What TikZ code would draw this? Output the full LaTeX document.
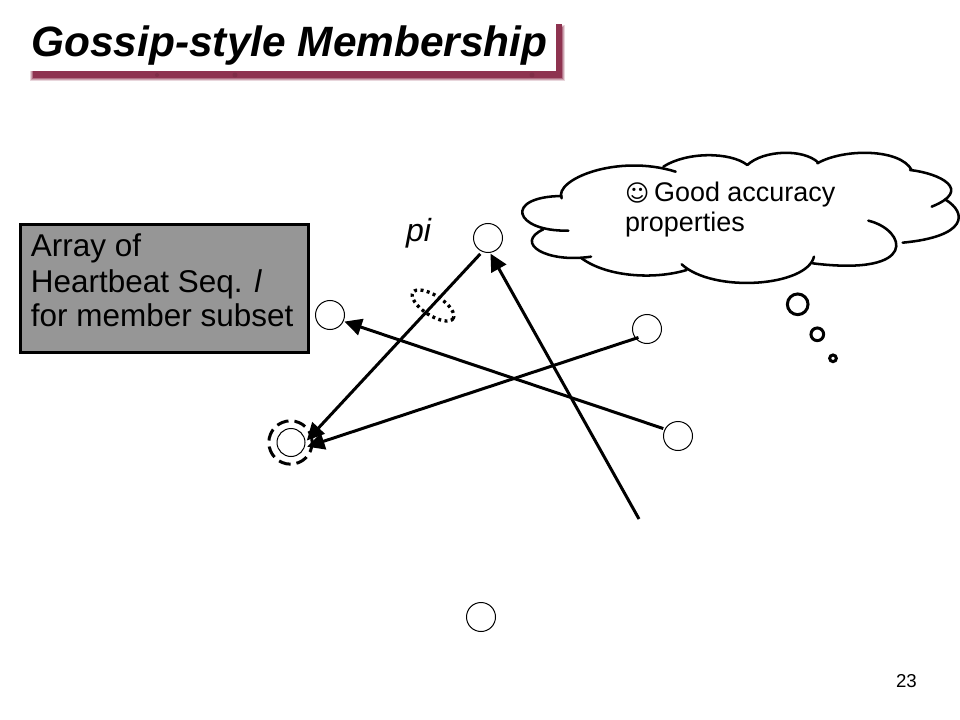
\documentclass[tikz,border=0pt]{standalone}
\usepackage{fontspec}
\setmainfont{Liberation Sans}
\newfontfamily\symfont{DejaVu Sans}
\usetikzlibrary{arrows.meta}
\definecolor{shadowred}{HTML}{8E3350}
\definecolor{boxgray}{HTML}{969696}
\tikzset{
  txt/.style={anchor=base west,inner sep=0pt,outer sep=0pt,text=black},
  member/.style={circle,draw=black,line width=0.75pt,fill=white,minimum size=21.75pt,inner sep=0pt,outer sep=0pt},
  conn/.style={line width=2.25pt,-{Triangle[length=13pt,width=12.5pt]}},
  lobe/.style={line width=1.9pt,line cap=round},
  bubble/.style={circle,draw=black,line width=2.25pt,fill=white,inner sep=0pt,outer sep=0pt},
}
\begin{document}
\begin{tikzpicture}[x=0.75pt,y=-0.75pt]
\useasboundingbox (0,0) rectangle (960,720);
% title
\foreach \o/\a in {3/0.2,2/0.3,1/0.45}{
  \fill[shadowred,opacity=\a] (33-\o,28-\o) rectangle (562+\o,78+\o);
}
\fill[shadowred] (33,24) rectangle (562,78);
\fill[shadowred!90!black] (157,75) circle (2);
\fill[shadowred!90!black] (235,75) circle (2.5);
\fill[shadowred!90!black] (532,75) circle (2.5);
\fill[white] (28,18) rectangle (556,71);
\node[txt,font=\fontsize{31.8pt}{36pt}\selectfont\bfseries\itshape] (title) at (31.5,57) {Gossip-style Membership};
% gray box
\node[draw=black,line width=2.25pt,fill=boxgray,minimum width=216pt,minimum height=95.5pt,inner sep=0pt] (box) at (164,288.5) {};
\node[txt,font=\fontsize{23.6pt}{28pt}\selectfont] (l1) at (31,257) {Array of};
\node[txt,font=\fontsize{23.6pt}{28pt}\selectfont] (l2) at (31,292) {Heartbeat Seq. \textit{l}};
\node[txt,font=\fontsize{23.6pt}{28pt}\selectfont] (l3) at (31,326) {for member subset};
% members
\node[member] (pi) at (488,238) {};
\node[member] (b) at (330,315) {};
\node[member] (c) at (647,329) {};
\node[member] (e) at (678,436) {};
\node[member,minimum size=21pt] (d) at (291,442.5) {};
\node[member] (g) at (481,617) {};
\coordinate (free) at (639,519);
\node[txt,font=\fontsize{24pt}{28pt}\selectfont\itshape] (pilabel) at (406,242) {pi};
% marks
\node[circle,draw=black,line width=2.25pt,dash pattern=on 9pt off 4.5pt,minimum size=32.5pt,inner sep=0pt] (ring) at (290.5,442.5) {};
\draw[line width=2.5pt,dash pattern=on 2.2pt off 2.6pt,rotate around={-33:(433,305.5)}] (433,305.5) ellipse (24 and 10);
% connectors
\draw[conn,shorten <=2.5pt,shorten >=2pt] (pi.248) -- (d.0);
\draw[conn,shorten >=1pt] (free) -- (pi.-83);
\draw[conn,shorten <=1.5pt,shorten >=1pt] (e.152) -- (b.-25);
\draw[conn,shorten <=-2pt,shorten >=2.5pt] (c.-140) -- (d.-22);
% cloud, in a local frame
\begin{scope}[shift={(510,140)},x=0.25pt,y=-0.25pt]
\draw[lobe] (155,175) .. controls (130,120) and (320,40) .. (497,95);
\draw[lobe] (460,80) .. controls (530,35) and (660,35) .. (712,75);
\draw[lobe] (712,75) .. controls (760,30) and (880,25) .. (925,68);
\draw[lobe] (922,70) .. controls (1000,25) and (1170,25) .. (1205,90);
\draw[lobe] (1200,90) .. controls (1290,100) and (1390,150) .. (1265,200);
\draw[lobe] (1305,178) .. controls (1375,220) and (1370,290) .. (1178,308);
\draw[lobe] (1075,242) .. controls (1190,270) and (1230,410) .. (908,370);
\draw[lobe] (912,350) .. controls (890,440) and (610,460) .. (515,373);
\draw[lobe] (530,390) .. controls (430,420) and (290,410) .. (215,355);
\draw[lobe] (243,350) .. controls (110,370) and (10,310) .. (100,268);
\draw[lobe] (175,272) .. controls (10,275) and (-20,170) .. (155,168);
\end{scope}
\node[txt,font=\fontsize{20.2pt}{24pt}\selectfont] (goodline) at (625,202) {{\symfont\fontsize{17.5pt}{20pt}\selectfont ☺}\hspace{-2pt} Good accuracy};
\node[txt,font=\fontsize{20.2pt}{24pt}\selectfont] (propline) at (625,232) {properties};
\node[bubble,minimum size=15.5pt] (t1) at (797.7,304.3) {};
\node[bubble,minimum size=9.5pt] (t2) at (817.3,334.3) {};
\node[bubble,minimum size=5pt] (t3) at (833,358.3) {};
\node[txt,font=\fontsize{14pt}{16pt}\selectfont] (page) at (896,687) {23};
\end{tikzpicture}
\end{document}
